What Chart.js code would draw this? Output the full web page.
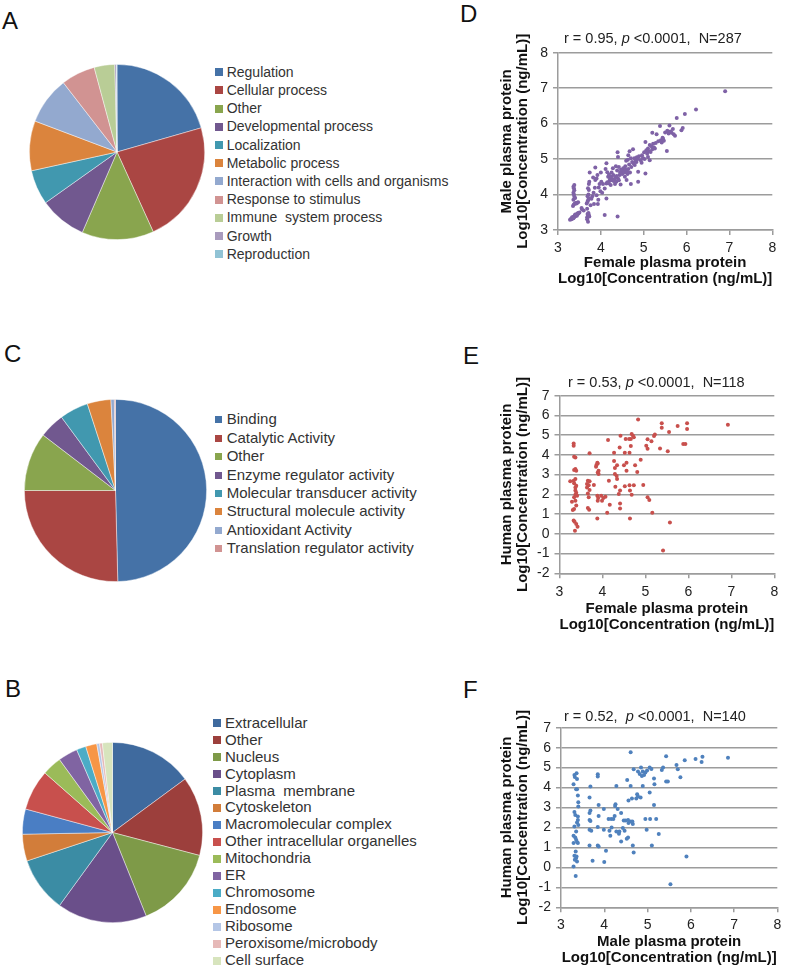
<!DOCTYPE html>
<html>
<head>
<meta charset="utf-8">
<script src="https://cdn.jsdelivr.net/npm/chart.js@4.4.0/dist/chart.umd.min.js"></script>
<style>
  body { margin: 0; background: #fff; }
  #page { position: relative; width: 787px; height: 970px; overflow: hidden; font-family: "Liberation Sans", Arial, sans-serif; }
  canvas { position: absolute; }
  .panel { position: absolute; font-size: 24px; line-height: 24px; color: #111; }
  .legend { position: absolute; color: #333; white-space: pre; }
  .legend .item { position: absolute; left: 0; }
  .legend .box { position: absolute; }
  .legend .txt { position: absolute; }
</style>
</head>
<body>
<div id="page">
  <div class="panel" style="left:2px; top:9px;">A</div>
  <div class="panel" style="left:460px; top:2px;">D</div>
  <div class="panel" style="left:4px; top:342px;">C</div>
  <div class="panel" style="left:463px; top:344px;">E</div>
  <div class="panel" style="left:5px; top:677px;">B</div>
  <div class="panel" style="left:463px; top:678px;">F</div>

  <canvas id="pieA" width="176" height="176" style="left:29px; top:64px;"></canvas>
  <canvas id="pieC" width="183" height="183" style="left:24px; top:399px;"></canvas>
  <canvas id="pieB" width="181" height="181" style="left:22px; top:742px;"></canvas>

  <div class="legend" id="legA" style="left:215px; top:0px; font-size:14px;"></div>
  <div class="legend" id="legC" style="left:215px; top:0px; font-size:15px;"></div>
  <div class="legend" id="legB" style="left:213px; top:0px; font-size:15px;"></div>

  <canvas id="scD" width="297" height="262" style="left:490px; top:30px;"></canvas>
  <canvas id="scE" width="297" height="268" style="left:490px; top:370px;"></canvas>
  <canvas id="scF" width="297" height="270" style="left:490px; top:700px;"></canvas>
</div>
<script>
// ---- pie data ----
const labelsA = ['Regulation', 'Cellular process', 'Other', 'Developmental process', 'Localization',
  'Metabolic process', 'Interaction with cells and organisms', 'Response to stimulus',
  'Immune  system process', 'Growth', 'Reproduction'];
const valuesA = [20.6, 22.7, 13.3, 8.7, 6.4, 9.2, 8.8, 6.3, 3.8, 0.3, 0.1];

const labelsC = ['Binding', 'Catalytic Activity', 'Other', 'Enzyme regulator activity',
  'Molecular transducer activity', 'Structural molecule activity', 'Antioxidant Activity',
  'Translation regulator activity'];
const valuesC = [49.6, 25.4, 10.4, 4.5, 5.1, 4.2, 0.6, 0.2];

const labelsB = ['Extracellular', 'Other', 'Nucleus', 'Cytoplasm', 'Plasma  membrane', 'Cytoskeleton',
  'Macromolecular complex', 'Other intracellular organelles', 'Mitochondria', 'ER', 'Chromosome',
  'Endosome', 'Ribosome', 'Peroxisome/microbody', 'Cell surface'];
const valuesB = [14.9, 14.2, 14.8, 16.1, 9.9, 4.8, 4.5, 7.3, 3.5, 3.5, 1.7, 2.0, 0.5, 0.5, 1.8];

const officeColors = ['#4572A7', '#AA4643', '#89A54E', '#71588F', '#4198AF', '#DB843D',
  '#93A9CF', '#D19392', '#B9CD96', '#A99BBD', '#91C3D5'];
const colorsB = ['#3F6A9E', '#9C3F3C', '#7E9A48', '#6A4F8A', '#3B8CA4', '#D27D3A',
  '#4A7EC4', '#C8504D', '#9BBB59', '#8064A2', '#4BACC6', '#F79646', '#B4C6E6', '#E6B9B8', '#D7E4BD'];

// ---- scatter data: [x, y] ----
const pointsD = [
  [3.28,3.29],[3.30,3.31],[3.31,3.30],[3.32,3.33],[3.33,3.32],[3.34,3.35],[3.35,3.34],[3.36,3.36],
  [3.37,3.38],[3.38,3.37],[3.39,3.40],[3.40,3.39],[3.41,3.42],[3.42,3.41],[3.43,3.44],[3.44,3.43],
  [3.45,3.45],[3.46,3.47],[3.47,3.46],[3.48,3.48],[3.50,3.49],[3.33,3.36],[3.36,3.33],[3.40,3.44],[3.44,3.40],
  [3.35,3.68],[3.37,3.72],[3.39,3.74],[3.41,3.76],[3.43,3.75],[3.45,3.77],[3.47,3.78],[3.36,3.85],
  [3.38,3.94],[3.37,4.00],[3.36,4.05],[3.38,4.12],[3.37,4.18],[3.36,4.22],[3.38,4.27],[3.40,3.90],
  [3.56,3.58],[3.60,3.55],[3.55,3.62],
  [3.68,3.30],[3.70,3.23],[3.68,3.36],[3.70,3.40],[3.72,3.42],[3.69,3.45],[3.71,3.48],[3.73,3.38],
  [3.67,3.75],[3.69,3.80],[3.70,3.84],[3.72,3.89],[3.69,3.95],[3.71,4.00],[3.72,4.13],[3.70,4.18],
  [3.72,4.30],[3.73,4.36],[3.74,4.62],[3.68,3.60],[3.76,3.70],
  [3.84,3.73],[3.93,3.73],[3.90,3.98],[3.86,4.19],[3.87,4.41],[3.87,4.76],[3.92,4.55],[3.99,4.09],
  [4.01,4.36],[4.00,4.62],[3.80,3.95],[3.83,4.05],[3.95,4.20],[3.97,4.30],[3.82,4.48],[3.90,4.45],
  [3.94,3.85],[3.78,3.88],[4.05,4.30],[4.03,4.05],
  [4.09,3.42],[4.13,3.89],[4.09,4.17],[4.13,4.31],[4.13,4.88],[4.17,4.50],[4.21,4.41],[4.23,4.27],
  [4.25,4.62],[4.28,4.74],[4.15,4.35],[4.18,4.32],[4.20,4.38],[4.22,4.45],[4.26,4.40],[4.28,4.43],
  [4.30,4.38],[4.19,4.56],[4.11,4.72],[4.15,4.63],[4.24,4.50],[4.29,4.55],
  [4.32,4.41],[4.36,4.36],[4.40,4.45],[4.39,3.38],[4.40,5.06],[4.39,5.19],[4.44,4.55],[4.48,4.64],
  [4.52,4.74],[4.56,4.50],[4.60,4.41],[4.34,4.47],[4.37,4.52],[4.42,4.40],[4.45,4.62],[4.47,4.70],
  [4.50,4.58],[4.53,4.65],[4.55,4.62],[4.58,4.70],[4.33,4.30],[4.46,4.28],[4.38,4.68],[4.35,4.80],
  [4.42,4.78],[4.57,4.80],[4.59,4.95],
  [4.64,5.11],[4.67,5.22],[4.75,5.28],[4.70,4.30],[4.79,4.83],[4.83,4.92],[4.87,4.36],[4.87,4.64],
  [4.93,4.97],[4.62,4.58],[4.64,4.72],[4.66,4.85],[4.68,4.62],[4.71,4.78],[4.73,4.92],[4.76,4.88],
  [4.78,5.02],[4.81,4.95],[4.84,5.05],[4.86,5.00],[4.89,5.08],[4.63,4.98],[4.70,5.02],[4.61,4.65],
  [4.96,5.11],[5.01,5.19],[5.04,4.59],[5.06,5.25],[5.10,5.30],[5.14,5.40],[5.18,5.36],[5.22,5.43],
  [5.14,4.97],[5.10,5.06],[4.98,5.03],[5.02,5.00],[5.08,5.15],[5.12,5.22],[5.16,5.20],[5.20,5.28],
  [5.24,5.33],[5.26,5.30],[5.28,5.45],[5.04,5.48],[4.95,4.90],[5.20,5.74],[5.30,5.70],
  [5.34,5.50],[5.38,5.93],[5.40,5.53],[5.42,5.47],[5.45,5.57],[5.44,5.60],[5.47,5.52],[5.54,5.23],
  [5.50,5.75],[5.55,5.80],[5.60,5.95],[5.58,5.72],[5.62,5.78],[5.65,5.74],[5.70,5.70],[5.73,5.66],
  [5.68,5.85],[5.77,6.16],[5.88,5.81],[5.91,5.88],[5.96,6.27],[6.22,6.40],[6.90,6.91]
];

const pointsE = [
  [4.83,5.80],[5.38,5.61],[5.38,5.38],[5.75,5.46],[5.97,5.60],[5.97,5.31],[5.55,5.16],[6.92,5.53],
  [5.22,5.04],[5.20,4.96],[4.68,5.06],[4.71,4.97],[4.73,4.89],[4.66,4.80],[4.62,4.80],[4.54,4.80],
  [4.42,4.97],[4.13,4.75],[5.05,4.79],[5.14,4.69],[5.02,4.47],[5.05,4.31],[5.34,4.33],[5.52,4.18],
  [5.88,4.55],[5.93,4.55],[4.66,4.45],[4.40,4.38],[3.70,4.08],[3.33,4.58],[3.33,4.47],[3.34,3.91],
  [3.37,3.87],[4.52,4.11],[4.63,4.11],[4.27,4.11],[4.89,3.76],[4.76,3.47],[4.27,3.69],[4.34,3.47],
  [4.56,3.60],[4.50,3.47],[4.56,3.20],[4.81,3.13],[4.29,3.33],[4.29,3.03],[4.33,2.93],[4.34,2.78],
  [3.88,3.60],[3.86,3.49],[3.85,3.40],[3.89,3.57],[3.91,3.20],[3.91,3.03],[3.89,3.11],
  [3.37,3.28],[3.39,3.20],[3.34,3.23],[4.15,2.69],[3.37,2.78],[3.33,2.69],[3.34,2.56],[3.39,2.44],
  [3.37,2.35],[3.25,2.66],[3.66,2.69],[3.70,2.66],[3.64,2.52],[3.68,2.46],[3.64,2.35],[3.70,2.22],
  [3.80,2.47],[4.30,2.39],[4.52,2.41],[4.63,2.46],[4.73,2.46],[4.95,2.47],[4.41,2.19],[4.38,2.02],
  [4.64,2.19],[4.68,1.98],[5.05,1.85],[5.09,1.71],[3.37,2.19],[3.39,2.08],[3.37,1.98],[3.41,1.93],
  [3.34,1.85],[3.37,1.68],[3.29,1.63],[3.66,2.05],[3.68,1.85],[3.88,1.93],[3.90,1.81],[3.89,1.68],
  [3.97,1.93],[4.02,1.81],[4.07,1.88],[3.99,1.68],[4.17,1.48],[4.41,1.54],[4.41,1.29],[3.39,1.43],
  [3.34,1.26],[3.31,1.21],[3.66,1.31],[3.69,1.22],[4.11,1.07],[5.16,1.07],[3.88,0.78],[4.64,0.78],
  [3.33,0.67],[3.35,0.61],[3.39,0.50],[3.42,0.36],[3.36,0.16],[5.57,0.58],[5.41,-0.84]
];

const pointsF = [
  [4.61,5.77],[5.43,5.57],[5.86,5.37],[6.11,5.43],[6.25,5.28],[6.27,5.55],[6.86,5.50],[5.67,5.13],
  [5.70,4.92],[5.76,4.52],[5.43,4.30],[5.47,4.30],[5.33,4.88],[5.36,5.00],[4.68,4.92],[4.85,5.00],
  [4.89,4.80],[4.95,4.75],[4.99,4.85],[5.05,5.00],[5.09,4.93],[4.82,4.68],[4.87,4.58],[4.78,4.80],
  [4.92,4.63],[4.53,4.38],[4.28,4.08],[4.61,4.08],[4.89,4.08],[5.15,4.45],[5.16,4.17],[4.64,3.45],
  [4.56,3.35],[4.74,3.45],[4.78,3.55],[4.84,3.50],[4.76,3.67],[5.05,3.75],[5.15,3.13],
  [3.31,4.63],[3.36,4.72],[3.32,4.53],[3.37,4.43],[3.29,4.17],[3.35,3.92],[3.37,3.92],[3.39,3.60],
  [3.40,3.27],[3.68,4.05],[3.85,4.67],[3.85,4.55],[3.66,3.50],[3.87,3.13],[3.99,2.92],[3.68,2.85],
  [3.66,2.72],[3.66,2.38],[3.68,2.33],[3.66,1.88],[3.70,1.83],[3.87,2.58],[4.26,3.17],[4.25,3.08],
  [4.31,2.92],[4.39,2.72],[4.24,2.58],[4.10,2.42],[4.16,2.42],[4.21,2.42],[4.45,2.35],[4.49,2.35],
  [4.55,2.37],[4.61,2.30],[4.95,2.42],[5.06,2.42],[5.20,2.42],[3.99,1.88],[4.12,1.83],[4.17,2.00],
  [4.28,1.80],[4.35,1.80],[4.43,1.97],[4.47,1.83],[4.34,1.68],[4.14,1.58],[3.85,2.03],[4.66,2.17],
  [4.65,2.30],[4.56,2.22],[4.98,1.88],[5.26,1.67],[4.39,1.30],[4.52,1.43],[4.55,1.50],[4.66,1.10],
  [5.10,1.10],[3.66,1.10],[3.85,1.10],[3.87,1.05],[4.68,0.75],[4.04,0.83],[3.73,0.33],[4.00,0.27],
  [5.90,0.55],[5.53,-0.85],[3.34,-0.43],
  [3.31,2.77],[3.33,2.63],[3.39,2.38],[3.37,2.25],[3.40,2.13],[3.31,2.05],[3.35,1.80],[3.29,1.58],
  [3.33,1.50],[3.35,1.38],[3.29,1.22],[3.37,1.27],[3.39,1.22],[3.34,0.80],[3.31,0.58],[3.35,0.47],
  [3.32,0.38],[3.37,0.30],[3.29,0.05],[3.36,0.55],[3.40,3.05],[3.39,2.55]
];

// stats line above each scatter: [normal, italic, normal]
const statsD = ['r = 0.95, ', 'p', ' <0.0001,  N=287'];
const statsE = ['r = 0.53, ', 'p', ' <0.0001,  N=118'];
const statsF = ['r = 0.52,  ', 'p', ' <0.0001,  N=140'];

const concTitle = 'Log10[Concentration (ng/mL)]';

const FONT = '"Liberation Sans", Arial, sans-serif';
const GRAY = '#9c9c9c';

// ---- pies ----
function makePie(id, labels, values, colors) {
  new Chart(document.getElementById(id), {
    type: 'pie',
    data: {
      labels: labels,
      datasets: [{
        data: values,
        backgroundColor: colors,
        borderColor: 'rgba(255,255,255,0.55)',
        borderWidth: 0.8
      }]
    },
    options: {
      responsive: false,
      animation: false,
      events: [],
      layout: { padding: 0 },
      plugins: { legend: { display: false }, tooltip: { enabled: false } }
    }
  });
}

function makeLegend(id, labels, colors, firstY, step, boxSize, textLeft) {
  const el = document.getElementById(id);
  const lh = 18;
  labels.forEach((lab, i) => {
    const cy = firstY + i * step;
    const item = document.createElement('div');
    item.className = 'item';
    item.style.top = (cy - lh / 2) + 'px';
    item.style.height = lh + 'px';
    item.innerHTML = '<span class="box"></span><span class="txt"></span>';
    const box = item.querySelector('.box');
    box.style.left = '0px';
    box.style.top = (lh / 2 - boxSize / 2 + 0.5) + 'px';
    box.style.width = boxSize + 'px';
    box.style.height = boxSize + 'px';
    box.style.background = colors[i];
    const txt = item.querySelector('.txt');
    txt.style.left = textLeft + 'px';
    txt.style.top = '0px';
    txt.style.lineHeight = lh + 'px';
    txt.textContent = lab;
    el.appendChild(item);
  });
}

makePie('pieA', labelsA, valuesA, officeColors);
makePie('pieC', labelsC, valuesC, officeColors);
makePie('pieB', labelsB, valuesB, colorsB);

makeLegend('legA', labelsA, officeColors, 71.7, 18.2, 8, 11.7);
makeLegend('legC', labelsC, officeColors, 419.3, 18.4, 7, 11.7);
makeLegend('legB', labelsB, colorsB, 722.7, 16.95, 8, 12);

// ---- scatters ----
const statsPlugin = {
  id: 'stats',
  afterDraw(chart, args, opts) {
    const ctx = chart.ctx;
    const a = chart.chartArea;
    let x = a.left + opts.dx;
    const y = a.top - opts.dy;
    ctx.save();
    ctx.textBaseline = 'middle';
    ctx.textAlign = 'left';
    ctx.fillStyle = '#222';
    opts.parts.forEach((t, i) => {
      ctx.font = (i === 1 ? 'italic ' : '') + '14.5px ' + FONT;
      ctx.fillText(t, x, y);
      x += ctx.measureText(t).width;
    });
    ctx.restore();
  }
};

function makeScatter(id, pts, color, yMin, yMax, yTitle, xTitle, stats, cfg) {
  new Chart(document.getElementById(id), {
    type: 'scatter',
    data: {
      datasets: [{
        data: pts.map(p => ({ x: p[0], y: p[1] })),
        backgroundColor: color,
        borderColor: color,
        borderWidth: 0,
        pointRadius: 2,
        pointHoverRadius: 2
      }]
    },
    options: {
      responsive: false,
      animation: false,
      events: [],
      layout: { padding: { left: 4, right: cfg.padR, top: cfg.padT, bottom: 0 } },
      plugins: {
        legend: { display: false },
        tooltip: { enabled: false },
        stats: { parts: stats, dx: cfg.sdx, dy: cfg.sdy }
      },
      scales: {
        x: {
          type: 'linear',
          min: 3, max: 8,
          ticks: { stepSize: 1, autoSkip: false, color: '#222', font: { family: FONT, size: 14 }, padding: cfg.xtp },
          grid: { drawOnChartArea: false, drawTicks: true, tickLength: 5, color: GRAY, lineWidth: 1.5 },
          border: { color: GRAY, width: 1.5 },
          title: {
            display: true, text: xTitle, color: '#111',
            font: { family: FONT, size: 15, weight: 'bold', lineHeight: 1.1 },
            padding: { top: 0, bottom: cfg.xtb }
          },
          afterFit: s => { s.height = cfg.xh; }
        },
        y: {
          type: 'linear',
          min: yMin, max: yMax,
          ticks: { stepSize: 1, autoSkip: false, color: '#222', font: { family: FONT, size: 14 }, padding: 5 },
          grid: { drawTicks: true, tickLength: 5, color: GRAY, lineWidth: 1.5 },
          border: { color: GRAY, width: 1.5 },
          title: {
            display: true, text: yTitle, color: '#111',
            font: { family: FONT, size: 15, weight: 'bold', lineHeight: 1.1 },
            padding: { top: 4.45, bottom: 0 }
          },
          afterFit: s => { s.width = cfg.yw; }
        }
      }
    },
    plugins: [statsPlugin]
  });
}

makeScatter('scD', pointsD, '#7F62A6', 3, 8,
  ['Male plasma protein', concTitle], ['Female plasma protein', concTitle], statsD,
  { padR: 14.7, padT: 22.7, yw: 64, xh: 62, xtb: 4.75, xtp: 4.6, sdx: 6, sdy: 13.7 });

makeScatter('scE', pointsE, '#C8504D', -2, 7,
  ['Human plasma protein', concTitle], ['Female plasma protein', concTitle], statsE,
  { padR: 12.7, padT: 25.7, yw: 65.5, xh: 64.7, xtb: 4.75, xtp: 5, sdx: 8.5, sdy: 13 });

makeScatter('scF', pointsF, '#4F81BD', -2, 7,
  ['Human plasma protein', concTitle], ['Male plasma protein', concTitle], statsF,
  { padR: 9.7, padT: 27.7, yw: 67, xh: 62.7, xtb: 3.75, xtp: 4.3, sdx: 3, sdy: 11 });
</script>
</body>
</html>
